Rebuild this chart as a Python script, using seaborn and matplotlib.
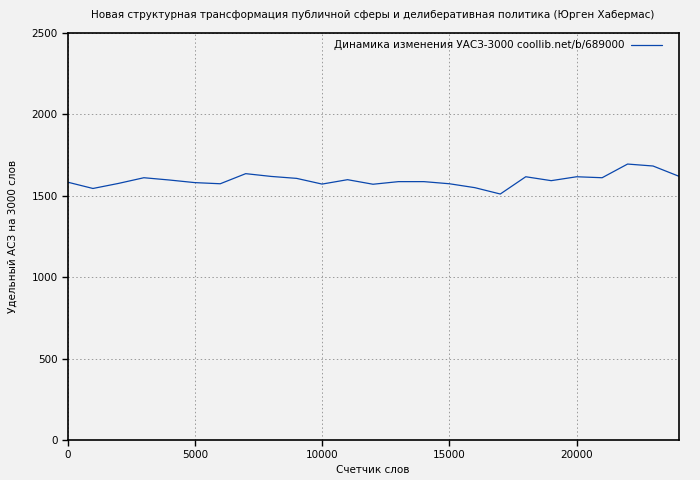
import numpy as np
import pandas as pd
import matplotlib
matplotlib.use('Agg')
import matplotlib.pyplot as plt
import seaborn as sns

# values
words = [0, 1000, 2000, 3000, 4000, 5000, 6000, 7000, 8000, 9000, 10000, 11000, 12000,
         13000, 14000, 15000, 16000, 17000, 18000, 19000, 20000, 21000, 22000, 23000, 24000]
uasz = [1584, 1545, 1576, 1611, 1597, 1581, 1574, 1636, 1619, 1607, 1572, 1599, 1571,
        1587, 1587, 1574, 1550, 1511, 1617, 1593, 1617, 1611, 1695, 1683, 1621]

x_ticks = [0, 5000, 10000, 15000, 20000]
y_ticks = [0, 500, 1000, 1500, 2000, 2500]

title = 'Новая структурная трансформация публичной сферы и делиберативная политика (Юрген Хабермас)'
series_name = 'Динамика изменения УАСЗ-3000 coollib.net/b/689000'

sns.set_theme(style='white')
plt.rcParams['font.family'] = ['DejaVu Sans']
plt.rcParams['font.size'] = 7.5
plt.rcParams['text.color'] = 'black'
plt.rcParams['axes.labelcolor'] = 'black'
plt.rcParams['xtick.color'] = 'black'
plt.rcParams['ytick.color'] = 'black'

df = pd.DataFrame({'words': words, 'uasz': uasz})

fig = plt.figure(figsize=(7, 4.8), dpi=100, facecolor='#f2f2f2')
ax = fig.add_axes([67.5 / 700, 1 - 440 / 480, (678.5 - 67.5) / 700, (440 - 33) / 480])
ax.set_facecolor('#f2f2f2')

sns.lineplot(data=df, x='words', y='uasz', ax=ax, color='#0a47ad', linewidth=0.9,
             label=series_name)

ax.set_xlim(0, 24000)
ax.set_ylim(0, 2500)
ax.set_xticks(x_ticks)
ax.set_yticks(y_ticks)
ax.grid(True, color='#9a9a9a', linestyle=(0, (1.5, 2.5)), linewidth=0.7)
ax.tick_params(direction='out', length=4, width=1, labelsize=7.5,
               left=True, bottom=True, pad=3)
for s in ax.spines.values():
    s.set_color('black')
    s.set_linewidth(1.2)

ax.set_xlabel('Счетчик слов', fontsize=7.5, labelpad=4)
ax.set_ylabel('Удельный АСЗ на 3000 слов', fontsize=7.5, labelpad=10)
ax.set_title(title, fontsize=7.5, pad=11)

leg = ax.legend(loc='upper right', frameon=False, markerfirst=False, fontsize=7.5,
                handlelength=3.0, handletextpad=0.6, borderaxespad=0.3,
                bbox_to_anchor=(0.985, 1.0))

fig.savefig('out.png', dpi=100, facecolor='#f2f2f2')
